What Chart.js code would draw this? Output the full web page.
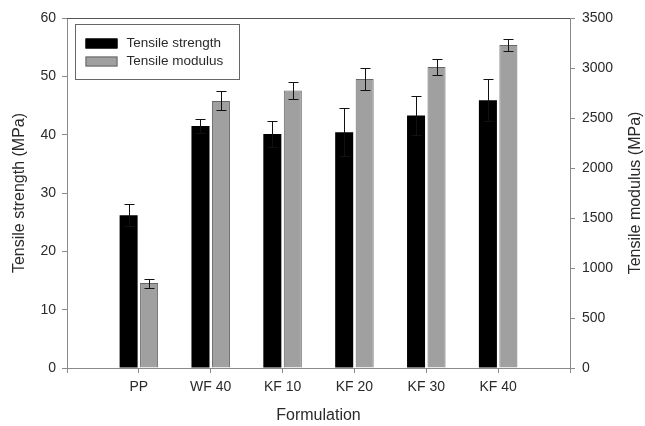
<!DOCTYPE html>
<html>
<head>
<meta charset="utf-8">
<script src="https://cdn.jsdelivr.net/npm/chart.js@4/dist/chart.umd.min.js"></script>
<style>
  html, body { margin: 0; padding: 0; background: #fff; }
  #wrap { width: 645px; height: 426px; }
</style>
</head>
<body>
<div id="wrap"><canvas id="chart" width="645" height="426"></canvas></div>
<script>
// data
const formulations = ['PP', 'WF 40', 'KF 10', 'KF 20', 'KF 30', 'KF 40'];
const strength = [26.2, 41.5, 40.1, 40.4, 43.3, 45.9];      // MPa, left axis
const strengthErr = [1.9, 1.2, 2.2, 4.1, 3.4, 3.6];
const modulus = [850, 2670, 2775, 2890, 3010, 3230];        // MPa, right axis
const modulusErr = [45, 95, 85, 110, 75, 60];
const leftTicks = [0, 10, 20, 30, 40, 50, 60];
const rightTicks = [0, 500, 1000, 1500, 2000, 2500, 3000, 3500];
const rightTitle = 'Tensile modulus (MPa)';

const FONT = 'Arial, "Liberation Sans", sans-serif';
const axisGray = '#8a8a8a';
const textColor = '#2a2a2a';

// empty slot at each end so the groups sit one full slot in from the axes
const labels = [''].concat(formulations, ['']);
const pad = arr => [null].concat(arr, [null]);

// error bars drawn through the scales
const errorBars = {
    id: 'errorBars',
    afterDatasetsDraw(chart) {
        const c = chart.ctx;
        c.save();
        c.strokeStyle = '#111';
        c.lineWidth = 1;
        chart.data.datasets.forEach((ds, i) => {
            const meta = chart.getDatasetMeta(i);
            const scale = chart.scales[ds.yAxisID];
            meta.data.forEach((bar, j) => {
                const v = ds.data[j], e = ds.errors[j];
                if (v == null) return;
                const x = Math.round(bar.x) + 0.5;
                const yTop = Math.round(scale.getPixelForValue(v + e)) + 0.5;
                const yBot = Math.round(scale.getPixelForValue(v - e)) + 0.5;
                c.beginPath();
                c.moveTo(x, yTop); c.lineTo(x, yBot);
                c.moveTo(x - 5, yTop); c.lineTo(x + 5, yTop);
                c.moveTo(x - 5, yBot); c.lineTo(x + 5, yBot);
                c.stroke();
            });
        });
        c.restore();
    }
};

// top frame line, right axis title (reads upward) and boxed legend
const frameAndLegend = {
    id: 'frameAndLegend',
    afterDraw(chart) {
        const c = chart.ctx;
        const a = chart.chartArea;
        c.save();
        c.strokeStyle = '#555';
        c.lineWidth = 1;
        c.beginPath();
        c.moveTo(a.left, Math.round(a.top) + 0.5);
        c.lineTo(a.right, Math.round(a.top) + 0.5);
        c.stroke();

        c.save();
        c.translate(636, (a.top + a.bottom) / 2);
        c.rotate(-Math.PI / 2);
        c.font = '16px ' + FONT;
        c.fillStyle = textColor;
        c.textAlign = 'center';
        c.textBaseline = 'middle';
        c.fillText(rightTitle, 0, 0);
        c.restore();

        // legend box
        const bx = a.left + 8.5, by = a.top + 6.5, bw = 164, bh = 55;
        c.strokeStyle = '#666';
        c.strokeRect(bx, by, bw, bh);
        c.font = '13.5px ' + FONT;
        c.textBaseline = 'middle';
        chart.data.datasets.forEach((ds, i) => {
            const ry = by + 19 + i * 18;
            c.fillStyle = ds.backgroundColor;
            c.fillRect(bx + 10, ry - 5, 32, 10);
            c.strokeStyle = ds.borderColor;
            c.strokeRect(bx + 10.5, ry - 4.5, 31, 9);
            c.fillStyle = textColor;
            c.fillText(ds.label, bx + 51, ry);
        });
        c.restore();
    }
};

const tickGrid = { display: true, drawOnChartArea: false, drawTicks: true, tickLength: 5, color: axisGray };
const tickFont = { family: FONT, size: 14 };
const titleFont = { family: FONT, size: 16 };

new Chart(document.getElementById('chart'), {
    type: 'bar',
    data: {
        labels: labels,
        datasets: [
            {
                label: 'Tensile strength',
                data: pad(strength),
                errors: pad(strengthErr),
                yAxisID: 'y',
                backgroundColor: '#000000',
                borderColor: '#000000',
                borderWidth: 0
            },
            {
                label: 'Tensile modulus',
                data: pad(modulus),
                errors: pad(modulusErr),
                yAxisID: 'y1',
                backgroundColor: '#a0a0a0',
                borderColor: '#666666',
                borderWidth: 1
            }
        ]
    },
    options: {
        responsive: false,
        animation: false,
        devicePixelRatio: 1,
        categoryPercentage: 0.57,
        barPercentage: 0.88,
        layout: { padding: { top: 18, left: 0, right: 0, bottom: 0 } },
        plugins: { legend: { display: false }, tooltip: { enabled: false } },
        scales: {
            x: {
                offset: false,
                grid: Object.assign({}, tickGrid, { offset: false }),
                border: { color: axisGray },
                ticks: { color: textColor, font: tickFont, padding: 6, maxRotation: 0, autoSkip: false },
                title: { display: true, text: 'Formulation', color: textColor, font: titleFont, padding: { top: 4, bottom: 1 } },
                afterFit(s) { s.height = 58; }
            },
            y: {
                position: 'left',
                min: 0, max: 60,
                afterBuildTicks(s) { s.ticks = leftTicks.map(v => ({ value: v })); },
                grid: tickGrid,
                border: { color: axisGray },
                ticks: { color: textColor, font: tickFont, padding: 6 },
                title: { display: true, text: 'Tensile strength (MPa)', color: textColor, font: titleFont, padding: { top: 10, bottom: 6 } },
                afterFit(s) { s.width = 67; }
            },
            y1: {
                position: 'right',
                min: 0, max: 3500,
                afterBuildTicks(s) { s.ticks = rightTicks.map(v => ({ value: v })); },
                grid: tickGrid,
                border: { color: axisGray },
                ticks: { color: textColor, font: tickFont, padding: 7, callback: v => String(v) },
                afterFit(s) { s.width = 75; }
            }
        }
    },
    plugins: [errorBars, frameAndLegend]
});
</script>
</body>
</html>
